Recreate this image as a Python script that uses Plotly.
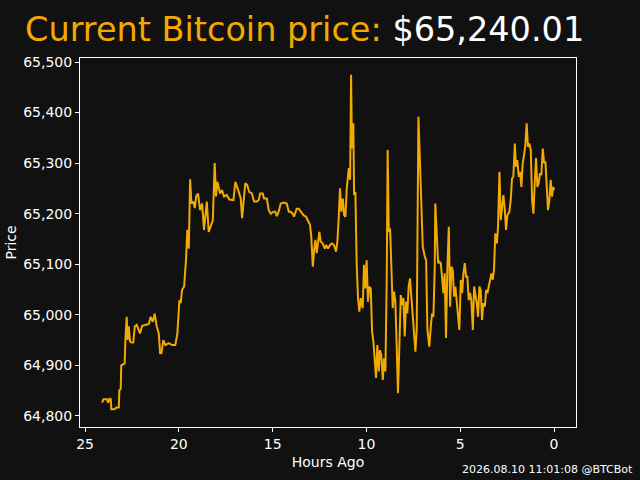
import plotly.graph_objects as go

# values (hours ago, price in USD)
hours_ago = [
    24.09, 24.02, 23.84, 23.77, 23.70, 23.63, 23.60, 23.42, 23.35, 23.20,
    23.17, 23.10, 23.07, 22.96, 22.89, 22.85, 22.78, 22.73, 22.67, 22.60,
    22.53, 22.43, 22.35, 22.25, 22.14, 22.07, 21.96, 21.79, 21.60, 21.50,
    21.39, 21.29, 21.18, 21.07, 21.00, 20.93, 20.83, 20.72, 20.54, 20.36,
    20.19, 20.08, 19.97, 19.90, 19.83, 19.72, 19.62, 19.55, 19.47, 19.40,
    19.33, 19.23, 19.15, 19.08, 18.98, 18.87, 18.76, 18.66, 18.51, 18.41,
    18.30, 18.19, 18.09, 18.02, 17.95, 17.80, 17.70, 17.59, 17.45, 17.31,
    17.09, 16.99, 16.84, 16.70, 16.63, 16.56, 16.46, 16.36, 16.25, 16.11,
    15.99, 15.85, 15.74, 15.67, 15.53, 15.46, 15.31, 15.21, 15.10, 14.96,
    14.86, 14.78, 14.68, 14.57, 14.39, 14.25, 14.14, 14.04, 13.93, 13.86,
    13.72, 13.61, 13.50, 13.36, 13.22, 13.11, 13.01, 12.94, 12.86, 12.79,
    12.72, 12.65, 12.58, 12.51, 12.44, 12.33, 12.22, 12.15, 12.05, 11.94,
    11.83, 11.73, 11.62, 11.55, 11.48, 11.41, 11.34, 11.26, 11.19, 11.12,
    11.05, 10.94, 10.87, 10.82, 10.77, 10.70, 10.66, 10.59, 10.52, 10.45,
    10.38, 10.30, 10.20, 10.13, 10.06, 9.99, 9.92, 9.85, 9.77, 9.70,
    9.63, 9.56, 9.49, 9.42, 9.34, 9.28, 9.21, 9.13, 9.06, 8.99,
    8.92, 8.87, 8.81, 8.74, 8.67, 8.60, 8.53, 8.46, 8.39, 8.32,
    8.25, 8.17, 8.10, 8.03, 7.96, 7.89, 7.82, 7.75, 7.68, 7.61,
    7.53, 7.46, 7.39, 7.32, 7.29, 7.23, 7.14, 7.07, 7.00, 6.89,
    6.82, 6.75, 6.65, 6.57, 6.50, 6.43, 6.36, 6.33, 6.25, 6.18,
    6.11, 6.04, 5.97, 5.90, 5.83, 5.76, 5.69, 5.61, 5.54, 5.47,
    5.40, 5.33, 5.26, 5.19, 5.12, 5.05, 4.97, 4.90, 4.83, 4.76,
    4.69, 4.62, 4.55, 4.48, 4.41, 4.33, 4.26, 4.20, 4.12, 4.05,
    3.98, 3.91, 3.84, 3.77, 3.69, 3.62, 3.55, 3.48, 3.41, 3.34,
    3.27, 3.20, 3.13, 3.05, 2.99, 2.91, 2.84, 2.77, 2.70, 2.63,
    2.56, 2.49, 2.38, 2.31, 2.24, 2.17, 2.09, 2.03, 1.96, 1.88,
    1.81, 1.74, 1.67, 1.60, 1.53, 1.46, 1.39, 1.32, 1.24, 1.17,
    1.10, 1.03, 0.96, 0.89, 0.82, 0.75, 0.68, 0.60, 0.53, 0.46,
    0.39, 0.32, 0.25, 0.18, 0.11, 0.04, 0.00,
]

price = [
    64826, 64833, 64833, 64826, 64834, 64833, 64813, 64813, 64816, 64817,
    64851, 64853, 64900, 64903, 64904, 64950, 64996, 64950, 64977, 64947,
    64945, 64945, 64977, 64980, 64970, 64963, 64978, 64980, 64982, 64996,
    64986, 65002, 64977, 64963, 64924, 64924, 64950, 64940, 64944, 64940,
    64940, 64963, 65029, 65023, 65049, 65056, 65108, 65168, 65131, 65268,
    65220, 65224, 65211, 65234, 65240, 65207, 65220, 65168, 65224, 65164,
    65174, 65187, 65300, 65234, 65263, 65240, 65247, 65234, 65237, 65228,
    65227, 65263, 65247, 65230, 65191, 65227, 65260, 65257, 65243, 65240,
    65224, 65224, 65227, 65240, 65240, 65230, 65230, 65207, 65200, 65204,
    65204, 65195, 65204, 65220, 65222, 65220, 65204, 65204, 65200, 65194,
    65210, 65210, 65204, 65197, 65194, 65187, 65178, 65154, 65095, 65128,
    65148, 65122, 65141, 65164, 65145, 65141, 65131, 65138, 65131, 65138,
    65141, 65138, 65125, 65145, 65191, 65250, 65204, 65230, 65197, 65194,
    65250, 65290, 65267, 65475, 65329, 65379, 65237, 65243, 65099, 65033,
    65006, 65033, 65013, 65099, 65052, 65108, 65026, 65056, 65052, 64967,
    64947, 64901, 64875, 64940, 64888, 64930, 64921, 64871, 64914, 64888,
    65072, 65326, 65164, 65171, 65072, 65013, 65046, 65026, 64940, 64845,
    64934, 65039, 65019, 65033, 64957, 65026, 65003, 65056, 65072, 65033,
    64993, 64947, 64927, 64973, 65099, 65392, 65293, 65207, 65135, 65115,
    65108, 64970, 64937, 64977, 65003, 64996, 65095, 65220, 65148, 65102,
    65105, 65102, 65075, 65043, 65082, 64954, 65089, 65174, 65016, 65095,
    65089, 65036, 65056, 65023, 64990, 64970, 65069, 65043, 65082, 65102,
    65075, 65075, 65029, 65043, 65029, 64970, 65056, 65043, 65023, 64996,
    65056, 65049, 64990, 65023, 65016, 65049, 65043, 65056, 65069, 65082,
    65069, 65089, 65161, 65141, 65171, 65283, 65187, 65214, 65237, 65211,
    65168, 65197, 65204, 65227, 65270, 65273, 65339, 65293, 65306, 65273,
    65283, 65253, 65300, 65316, 65336, 65379, 65332, 65339, 65326, 65227,
    65200, 65260, 65310, 65253, 65260, 65280, 65276, 65329, 65300, 65303,
    65260, 65207, 65227, 65267, 65234, 65253, 65247,
]

current_price = "$65,240.01"
stamp = "2026.08.10 11:01:08 @BTCBot"
x_ticks = [25, 20, 15, 10, 5, 0]
y_ticks = [64800, 64900, 65000, 65100, 65200, 65300, 65400, 65500]

btc_orange = "#f2a900"
bg = "#111111"
font_family = "DejaVu Sans, sans-serif"

fig = go.Figure()
fig.add_trace(go.Scatter(
    x=hours_ago,
    y=price,
    mode="lines",
    line=dict(color=btc_orange, width=2),
    hoverinfo="skip",
))

axis_common = dict(
    showline=True,
    linecolor="white",
    linewidth=1,
    mirror=True,
    showgrid=False,
    zeroline=False,
    automargin=False,
    ticks="outside",
    ticklen=4,
    tickcolor="white",
    tickfont=dict(family=font_family, size=14, color="white"),
)

fig.update_layout(
    width=640,
    height=480,
    paper_bgcolor=bg,
    plot_bgcolor=bg,
    showlegend=False,
    margin=dict(l=80, r=64, t=58, b=53),
    title=dict(
        text=f"<span style='color:{btc_orange}'>Current Bitcoin price:</span> {current_price}",
        font=dict(family=font_family, size=33.5, color="white"),
        x=0.476,
        xanchor="center",
        y=0.94,
        yanchor="middle",
    ),
    xaxis=dict(
        range=[25.27, -1.17],
        tickmode="array",
        tickvals=x_ticks,
        title=dict(text="Hours Ago", font=dict(family=font_family, size=14, color="white"), standoff=6),
        **axis_common,
    ),
    yaxis=dict(
        range=[64778, 65508],
        tickmode="array",
        tickvals=y_ticks,
        tickformat=",",
        title=dict(text="Price", font=dict(family=font_family, size=14, color="white"), standoff=3),
        **axis_common,
    ),
)

fig.add_annotation(
    text=stamp,
    xref="paper", yref="paper",
    x=1.118, y=-0.116,
    xanchor="right", yanchor="middle",
    showarrow=False,
    font=dict(family=font_family, size=11, color="white"),
)

# page body has a default 8px margin; drop it so the figure sits at 0,0
fig.write_html(
    "out.html",
    config={"displayModeBar": False},
    post_script="document.body.style.margin='0';",
)
